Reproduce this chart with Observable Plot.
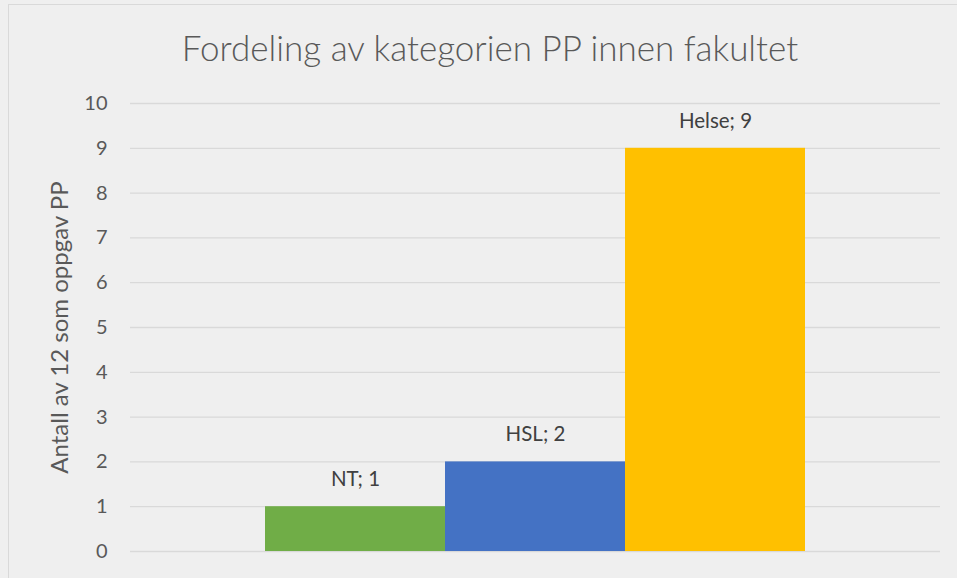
<!DOCTYPE html>
<html>
<head>
<meta charset="utf-8">
<script src="https://cdn.jsdelivr.net/npm/d3@7"></script>
<script src="https://cdn.jsdelivr.net/npm/@observablehq/plot@0.6"></script>
<style>
  html, body { margin: 0; padding: 0; background: #efefef; }
  #wrap { position: relative; width: 957px; height: 578px; overflow: hidden; background: #efefef; font-family: Lato, "Open Sans", sans-serif; }
  #frame { position: absolute; left: 8px; top: 4px; width: 1000px; height: 1000px; border-left: 1.5px solid #d9d9d9; border-top: 1.5px solid #d9d9d9; box-sizing: border-box; pointer-events: none; }
  #title { position: absolute; left: 0; top: 25px; width: 980px; text-align: center; font-size: 35px; font-weight: 300; color: #595959; line-height: 44px; white-space: nowrap; }
  #chart { position: absolute; left: 0; top: 0; }
</style>
</head>
<body>
<div id="wrap">
  <div id="frame"></div>
  <div id="chart"></div>
  <div id="title">Fordeling av kategorien PP innen fakultet</div>
</div>
<script>
const categories = ["NT", "HSL", "Helse"];
const values = [1, 2, 9];
const colors = ["#70AD47", "#4472C4", "#FFC000"];
const yTicks = [0, 1, 2, 3, 4, 5, 6, 7, 8, 9, 10];
const yLabel = "Antall av 12 som oppgav PP";

const data = categories.map((c, i) => ({name: c, value: values[i]}));

const chart = Plot.plot({
  width: 957,
  height: 578,
  marginLeft: 130,
  marginRight: 17,
  marginTop: 103,
  marginBottom: 27,
  style: {background: "transparent", fontFamily: "Lato, 'Open Sans', sans-serif", overflow: "visible"},
  x: {domain: categories, paddingInner: 0, paddingOuter: 0.75, axis: null},
  y: {domain: [0, 10], axis: null},
  color: {domain: categories, range: colors},
  marks: [
    Plot.ruleY(yTicks, {stroke: "#d9d9d9", strokeWidth: 1.3}),
    Plot.barY(data, {x: "name", y: "value", fill: "name"}),
    Plot.axisY(yTicks, {tickSize: 0, tickPadding: 23, fontSize: 20, fill: "#595959", label: null}),
    Plot.text(data, {x: "name", y: "value", text: d => `${d.name}; ${d.value}`, dy: -27, fontSize: 20.5, fill: "#404040"}),
    Plot.text([yLabel], {frameAnchor: "left", dx: -70, rotate: -90, text: d => d, fontSize: 24, fill: "#595959", textAnchor: "middle"})
  ]
});
document.getElementById("chart").appendChild(chart);
</script>
</body>
</html>
